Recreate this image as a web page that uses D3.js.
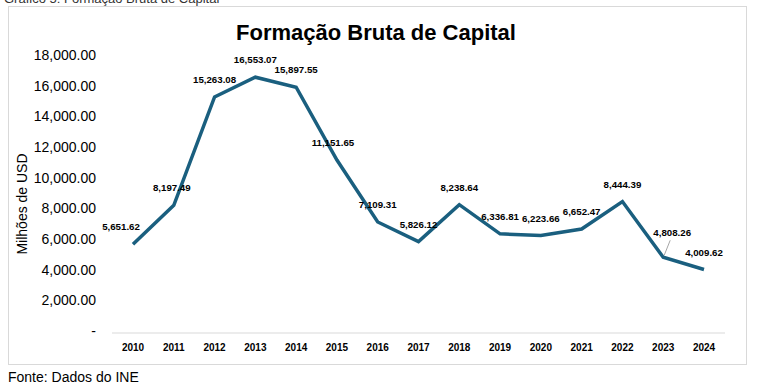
<!DOCTYPE html>
<html>
<head>
<meta charset="utf-8">
<script src="https://cdn.jsdelivr.net/npm/d3@7"></script>
<style>
  body { margin: 0; background: #fff; }
  svg { display: block; font-family: "Liberation Sans", Arial, sans-serif; }
</style>
</head>
<body>
<svg width="777" height="387"></svg>
<script>
// Chart data
var years = [2010, 2011, 2012, 2013, 2014, 2015, 2016, 2017, 2018, 2019, 2020, 2021, 2022, 2023, 2024];
var values = [5651.62, 8197.49, 15263.08, 16553.07, 15897.55, 11151.65, 7109.31, 5826.12,
	8238.64, 6336.81, 6223.66, 6652.47, 8444.39, 4808.26, 4009.62];
var yTicks = [0, 2000, 4000, 6000, 8000, 10000, 12000, 14000, 16000, 18000];

// Manual label nudges (like the Excel original), by year index
var nudge = { 0: [-12, 0], 1: [-2, 0], 5: [-4, 0], 13: [9, -7] };

var svg = d3.select("svg");

// Cropped caption above the chart box
svg.append("text")
	.attr("x", 4).attr("y", 3)
	.attr("font-size", 13).attr("fill", "#333")
	.text("Gráfico 5: Formação Bruta de Capital");

// Chart box
svg.append("rect")
	.attr("x", 8.5).attr("y", 6.5)
	.attr("width", 738).attr("height", 358)
	.attr("fill", "#fff").attr("stroke", "#d9d9d9");

var x = d3.scalePoint().domain(years).range([133, 704]);
var y = d3.scaleLinear().domain([0, 18000]).range([331, 55]);

// Title
svg.append("text")
	.attr("x", 376).attr("y", 40)
	.attr("text-anchor", "middle")
	.attr("font-size", 22).attr("font-weight", "bold")
	.text("Formação Bruta de Capital");

// Y axis labels
var fmt = d3.format(",.2f");
var yAxis = d3.axisLeft(y).tickValues(yTicks).tickSize(0).tickPadding(0)
	.tickFormat(function(d) { return d == 0 ? "-" : fmt(d); });
var gy = svg.append("g").attr("transform", "translate(96,0)").call(yAxis);
gy.select(".domain").remove();
gy.selectAll("text").attr("font-size", 14).attr("fill", "#000").attr("font-family", "Liberation Sans, Arial, sans-serif");

svg.append("text")
	.attr("transform", "translate(27,204) rotate(-90)")
	.attr("text-anchor", "middle")
	.attr("font-size", 14)
	.text("Milhões de USD");

// X axis
svg.append("line")
	.attr("x1", 112).attr("x2", 725)
	.attr("y1", y(0) + 2).attr("y2", y(0) + 2)
	.attr("stroke", "#d9d9d9").attr("stroke-width", 1);

svg.append("g").selectAll("text")
	.data(years).enter()
	.append("text")
	.attr("x", function(d) { return x(d); })
	.attr("y", 351)
	.attr("text-anchor", "middle")
	.attr("font-size", 10).attr("font-weight", "bold")
	.text(function(d) { return d; });

// Line
var line = d3.line()
	.x(function(d, i) { return x(years[i]); })
	.y(function(d) { return y(d); });

svg.append("path")
	.datum(values)
	.attr("d", line)
	.attr("fill", "none")
	.attr("stroke", "#1a5f7f")
	.attr("stroke-width", 3.5)
	.attr("stroke-linejoin", "miter");

// Leader line for 2023
svg.append("line")
	.attr("x1", x(2023) + 1).attr("y1", y(values[13]) - 2)
	.attr("x2", x(2023) + 7).attr("y2", y(values[13]) - 17)
	.attr("stroke", "#a6a6a6").attr("stroke-width", 1);

// Data labels
svg.append("g").selectAll("text")
	.data(values).enter()
	.append("text")
	.attr("x", function(d, i) { return x(years[i]) + (nudge[i] ? nudge[i][0] : 0); })
	.attr("y", function(d, i) { return y(d) - 14 + (nudge[i] ? nudge[i][1] : 0); })
	.attr("text-anchor", "middle")
	.attr("font-size", 9.7).attr("font-weight", "bold")
	.text(function(d) { return fmt(d); });

// Source
svg.append("text")
	.attr("x", 8).attr("y", 382)
	.attr("font-size", 14)
	.text("Fonte: Dados do INE");
</script>
</body>
</html>
